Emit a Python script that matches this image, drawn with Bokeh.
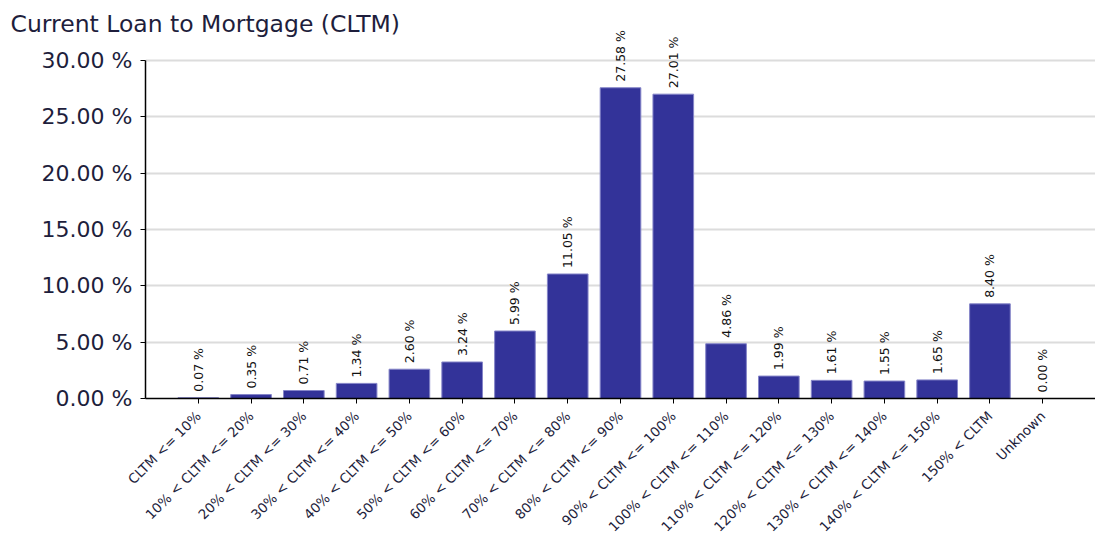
import math
from bokeh.plotting import figure
from bokeh.models import (ColumnDataSource, FactorRange, Range1d, Label,
                          PrintfTickFormatter, FixedTicker)
from bokeh.embed import file_html
from bokeh.resources import INLINE

categories = [
    "CLTM <= 10%", "10% < CLTM <= 20%", "20% < CLTM <= 30%", "30% < CLTM <= 40%",
    "40% < CLTM <= 50%", "50% < CLTM <= 60%", "60% < CLTM <= 70%", "70% < CLTM <= 80%",
    "80% < CLTM <= 90%", "90% < CLTM <= 100%", "100% < CLTM <= 110%", "110% < CLTM <= 120%",
    "120% < CLTM <= 130%", "130% < CLTM <= 140%", "140% < CLTM <= 150%", "150% < CLTM",
    "Unknown",
]
values = [0.07, 0.35, 0.71, 1.34, 2.60, 3.24, 5.99, 11.05, 27.58, 27.01,
          4.86, 1.99, 1.61, 1.55, 1.65, 8.40, 0.00]
y_ticks = [0, 5, 10, 15, 20, 25, 30]
title_text = "Current Loan to Mortgage (CLTM)"

labels = [f"{v:.2f} %" for v in values]
source = ColumnDataSource(dict(cat=categories, val=values, lab=labels))

FONT = "DejaVu Sans"
TXT = "#1e1e3c"

# axis runs 0..30; the frame gets a little headroom so the rotated value
# labels of the tallest bars are not clipped
p = figure(
    x_range=FactorRange(factors=categories, range_padding=0.5,
                        range_padding_units="absolute"),
    y_range=Range1d(0, 32.66),
    frame_width=950, frame_height=368,
    min_border_left=145, min_border_top=30, min_border_right=0, min_border_bottom=0,
    output_backend="svg", toolbar_location=None,
    title=title_text,
)

p.title.text_font = FONT
p.title.text_font_size = "23.5px"
p.title.text_font_style = "normal"
p.title.text_color = TXT
p.title.align = "left"
p.title.offset = -135
p.title.standoff = -15

p.vbar(x="cat", top="val", width=0.77, source=source,
       fill_color="#333399", line_color="#8585c8", line_width=1)

# value labels: Label annotations placed at each factor's synthetic position
for i, (v, t) in enumerate(zip(values, labels)):
    p.add_layout(Label(x=i + 0.5, y=v, text=t, angle=math.pi / 2,
                       text_align="left", text_baseline="middle",
                       y_offset=6, text_font=FONT, text_font_size="12.5px",
                       text_color="#111111"))

p.outline_line_color = None
p.xgrid.grid_line_color = None
p.ygrid.grid_line_color = "#dcdcdc"
p.ygrid.grid_line_width = 2

p.yaxis.bounds = (0, 30)
p.yaxis.ticker = FixedTicker(ticks=y_ticks)
p.ygrid.ticker = FixedTicker(ticks=y_ticks)
p.yaxis.formatter = PrintfTickFormatter(format="%.2f %%")
p.yaxis.major_label_text_font = FONT
p.yaxis.major_label_text_font_size = "22px"
p.yaxis.major_label_text_color = TXT
p.yaxis.major_label_standoff = 8
p.yaxis.axis_line_color = "black"
p.yaxis.axis_line_width = 1.5
p.yaxis.major_tick_line_color = "black"
p.yaxis.major_tick_in = 0
p.yaxis.major_tick_out = 5
p.yaxis.minor_tick_line_color = None

p.xaxis.major_label_orientation = math.pi / 4
p.xaxis.major_label_text_font = FONT
p.xaxis.major_label_text_font_size = "13.5px"
p.xaxis.major_label_text_color = TXT
p.xaxis.axis_line_color = "black"
p.xaxis.axis_line_width = 1.5
p.xaxis.major_tick_line_color = "black"
p.xaxis.major_tick_in = 0
p.xaxis.major_tick_out = 5
p.xaxis.major_label_standoff = 10

open("out.html", "w").write(file_html(p, INLINE))
